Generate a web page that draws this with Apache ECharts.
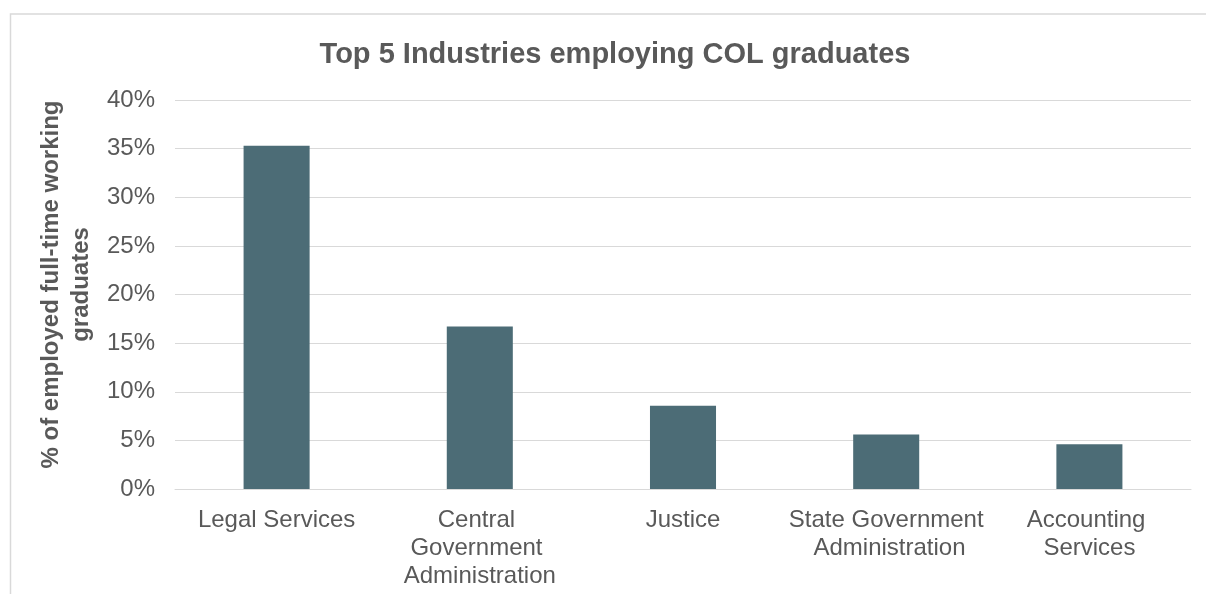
<!DOCTYPE html>
<html>
<head>
<meta charset="utf-8">
<style>
html,body{margin:0;padding:0;background:#fff;}
#chart{width:1206px;height:594px;}
</style>
<script src="https://cdn.jsdelivr.net/npm/echarts@6/dist/echarts.min.js"></script>
</head>
<body>
<div id="chart"></div>
<script>
const titleText = "Top 5 Industries employing COL graduates";
const yAxisName = "% of employed full-time working\ngraduates";
const categories = ["Legal Services", "Central Government Administration", "Justice", "State Government Administration", "Accounting Services"];
const values = [35.3, 16.7, 8.55, 5.6, 4.6];
const yTicks = [0, 5, 10, 15, 20, 25, 30, 35, 40];

const chart = echarts.init(document.getElementById('chart'), null, {renderer: 'canvas'});
const FONT = '"Liberation Sans", Arial, sans-serif';
chart.setOption({
  animation: false,
  backgroundColor: '#ffffff',
  graphic: [{
    type: 'rect',
    shape: {x: 10.5, y: 14, width: 1300, height: 700},
    style: {fill: 'none', stroke: '#d9d9d9', lineWidth: 1.5},
    silent: true, z: -1
  }],
  title: {
    text: titleText,
    left: 610,
    top: 35,
    textAlign: 'center',
    textStyle: {fontFamily: FONT, fontSize: 29, fontWeight: 'bold', color: '#595959'}
  },
  grid: {left: 175, right: 15, top: 100, bottom: 105, containLabel: false},
  xAxis: {
    type: 'category',
    data: categories,
    axisLine: {lineStyle: {color: '#d9d9d9', width: 1}},
    axisTick: {show: false},
    axisLabel: {
      interval: 0, margin: 17, color: '#595959', fontFamily: FONT, fontSize: 24,
      lineHeight: 28, width: 200, overflow: 'break', align: 'center'
    }
  },
  yAxis: {
    type: 'value',
    min: yTicks[0],
    max: yTicks[yTicks.length - 1],
    interval: yTicks[1] - yTicks[0],
    name: yAxisName,
    nameLocation: 'middle',
    nameGap: 68,
    nameTextStyle: {fontFamily: FONT, fontSize: 24, fontWeight: 'bold', color: '#595959', lineHeight: 30, padding: [12, 0, 0, 20]},
    axisLine: {show: false},
    axisTick: {show: false},
    splitLine: {lineStyle: {color: '#d9d9d9', width: 1}},
    axisLabel: {margin: 20, color: '#595959', fontFamily: FONT, fontSize: 24, formatter: '{value}%'}
  },
  series: [{
    type: 'bar',
    data: values,
    barWidth: '32.5%',
    itemStyle: {color: '#4c6c76'}
  }]
});
</script>
</body>
</html>
